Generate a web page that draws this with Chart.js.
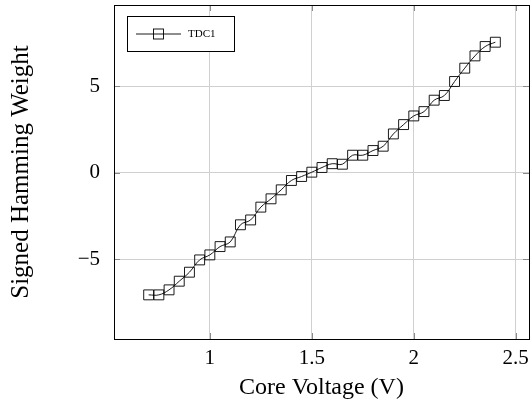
<!DOCTYPE html>
<html><head><meta charset="utf-8">
<script src="https://cdn.jsdelivr.net/npm/chart.js@4"></script>
<style>html,body{margin:0;padding:0;background:#fff}</style>
</head><body>
<canvas id="c" width="532" height="416"></canvas>
<script>
const voltages = [0.70,0.75,0.80,0.85,0.90,0.95,1.00,1.05,1.10,1.15,1.20,1.25,1.30,1.35,1.40,1.45,1.50,1.55,1.60,1.65,1.70,1.75,1.80,1.85,1.90,1.95,2.00,2.05,2.10,2.15,2.20,2.25,2.30,2.35,2.40];
const tdc1 = [-7.05,-7.05,-6.76,-6.26,-5.74,-5.03,-4.74,-4.26,-3.99,-3.00,-2.72,-1.98,-1.50,-0.98,-0.44,-0.21,0.04,0.31,0.53,0.50,1.02,1.02,1.29,1.54,2.25,2.79,3.29,3.54,4.20,4.47,5.28,6.05,6.76,7.30,7.55];
const xTicks = [1, 1.5, 2, 2.5];
const yTicks = [-5, 0, 5];
const seriesLabel = 'TDC1';
const xTitle = 'Core Voltage (V)';
const yTitle = 'Signed Hamming Weight';

const serif = '"Liberation Serif", "DejaVu Serif", serif';

const framePlugin = {
  id: 'frame',
  beforeDatasetsDraw(chart) {
    const {ctx, chartArea: a, scales} = chart;
    ctx.save();
    ctx.strokeStyle = '#8a8a8a';
    ctx.lineWidth = 1;
    const L = 6;
    scales.x.ticks.forEach(t => {
      const px = Math.round(scales.x.getPixelForValue(t.value)) + 0.5;
      ctx.beginPath();
      ctx.moveTo(px, a.bottom); ctx.lineTo(px, a.bottom - L);
      ctx.moveTo(px, a.top); ctx.lineTo(px, a.top + L);
      ctx.stroke();
    });
    scales.y.ticks.forEach(t => {
      const py = Math.round(scales.y.getPixelForValue(t.value)) + 0.5;
      ctx.beginPath();
      ctx.moveTo(a.left, py); ctx.lineTo(a.left + L, py);
      ctx.moveTo(a.right, py); ctx.lineTo(a.right - L, py);
      ctx.stroke();
    });
    ctx.restore();
  },
  afterDraw(chart) {
    const {ctx, chartArea: a} = chart;
    ctx.save();
    ctx.strokeStyle = '#000';
    ctx.lineWidth = 1;
    ctx.strokeRect(Math.round(a.left) + 0.5, Math.round(a.top) + 0.5, Math.round(a.right - a.left), Math.round(a.bottom - a.top));
    // legend
    const lx = a.left + 13, ly = a.top + 11, lw = 107, lh = 35;
    ctx.fillStyle = '#fff';
    ctx.fillRect(lx, ly, lw, lh);
    ctx.strokeRect(lx + 0.5, ly + 0.5, lw, lh);
    const cy = ly + lh / 2 + 0.5;
    ctx.lineWidth = 0.9;
    ctx.beginPath();
    ctx.moveTo(lx + 9, cy); ctx.lineTo(lx + 54, cy);
    ctx.stroke();
    ctx.strokeRect(lx + 26.5, cy - 5, 10, 10);
    ctx.fillStyle = '#000';
    ctx.font = '11px ' + serif;
    ctx.textBaseline = 'middle';
    ctx.textAlign = 'left';
    ctx.fillText(chart.data.datasets[0].label, lx + 61, cy);
    ctx.restore();
  }
};

const zeroPad = s => { s.paddingTop = 0; s.paddingBottom = 0; s.paddingLeft = 0; s.paddingRight = 0; };

new Chart(document.getElementById('c'), {
  type: 'line',
  data: {
    datasets: [{
      label: seriesLabel,
      data: voltages.map((v, i) => ({x: v, y: tdc1[i]})),
      borderColor: '#000',
      borderWidth: 0.9,
      tension: 0.4,
      pointStyle: 'rect',
      pointRadius: 7,
      pointBorderWidth: 0.9,
      pointBorderColor: '#000',
      pointBackgroundColor: 'rgba(0,0,0,0)',
      fill: false
    }]
  },
  options: {
    responsive: false,
    animation: false,
    layout: {autoPadding: false, padding: {left: 0, right: 3, top: 5, bottom: 0}},
    plugins: {legend: {display: false}, tooltip: {enabled: false}},
    scales: {
      x: {
        type: 'linear',
        min: 0.53, max: 2.565,
        afterBuildTicks: s => { s.ticks = xTicks.map(v => ({value: v})); },
        afterFit: s => { s.height = 77; zeroPad(s); },
        grid: {color: '#d0d0d0', lineWidth: 1, drawTicks: false},
        border: {display: false},
        ticks: {color: '#000', font: {family: serif, size: 21}, padding: 7, maxRotation: 0,
          callback: v => String(v)},
        title: {display: true, text: xTitle, color: '#000', font: {family: serif, size: 24}, padding: {top: 0, bottom: 14}}
      },
      y: {
        type: 'linear',
        min: -9.6, max: 9.7,
        afterBuildTicks: s => { s.ticks = yTicks.map(v => ({value: v})); },
        afterFit: s => { s.width = 114; zeroPad(s); },
        grid: {color: '#d0d0d0', lineWidth: 1, drawTicks: false},
        border: {display: false},
        ticks: {color: '#000', font: {family: serif, size: 21}, padding: 14,
          callback: v => v < 0 ? '\u2212' + Math.abs(v) : String(v)},
        title: {display: true, text: yTitle, color: '#000', font: {family: serif, size: 25}, padding: {top: 6, bottom: 0}}
      }
    }
  },
  plugins: [framePlugin]
});
</script>
</body></html>
